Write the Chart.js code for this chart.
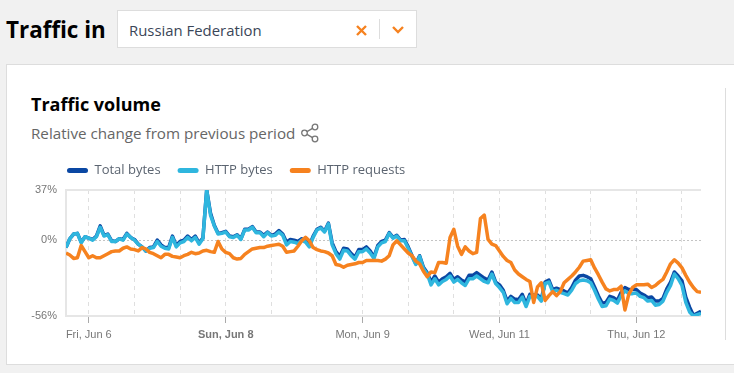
<!DOCTYPE html>
<html><head><meta charset="utf-8">
<script src="https://cdn.jsdelivr.net/npm/chart.js@4"></script>
<style>
html,body{margin:0;padding:0;width:734px;height:373px;overflow:hidden;background:#f1f1f1;font-family:"Open Sans",sans-serif}
.abs{position:absolute;white-space:nowrap}
#h1{left:6px;top:13px;font-size:22.4px;font-weight:700;color:#000;line-height:34px}
#sel{left:117px;top:10px;width:298px;height:36px;background:#fff;border:1px solid #ddd}
#seltxt{left:129px;top:19px;font-size:14.9px;line-height:22px;color:#3b4658}
#div{left:379px;top:19px;width:1px;height:20px;background:#ddd}
#card{left:6px;top:64px;width:740px;height:299px;background:#fff;border:1px solid #ddd}
#t{left:31px;top:91px;font-size:18px;font-weight:700;line-height:26px;color:#000}
#s{left:31px;top:122px;font-size:15.2px;line-height:22px;color:#666}
#vl{left:725px;top:88px;width:1px;height:252px;background:#ddd}
canvas{position:absolute;left:0;top:143px}
</style></head><body>
<div class="abs" id="h1">Traffic in</div>
<div class="abs" id="sel"></div>
<div class="abs" id="seltxt">Russian Federation</div>
<svg class="abs" style="left:355px;top:24px" width="13" height="13"><path d="M2 2L11 11M11 2L2 11" stroke="#f6821f" stroke-width="2.4" fill="none"/></svg>
<div class="abs" id="div"></div>
<svg class="abs" style="left:391px;top:25px" width="14" height="10"><path d="M2 2L7 7L12 2" stroke="#f6821f" stroke-width="2.4" fill="none"/></svg>
<div class="abs" id="card"></div>
<div class="abs" id="t">Traffic volume</div>
<div class="abs" id="s">Relative change from previous period</div>
<svg class="abs" style="left:300px;top:123px" width="20" height="20" fill="none" stroke="#777" stroke-width="1.3"><circle cx="4.5" cy="10" r="2.8"/><circle cx="15" cy="4" r="2.8"/><circle cx="15" cy="16" r="2.8"/><path d="M7 8.6L12.5 5.4M7 11.4L12.5 14.6"/></svg>
<div class="abs" id="vl"></div>
<canvas id="c" width="734" height="200"></canvas>
<script>
const seriesNames = ["Total bytes", "HTTP bytes", "HTTP requests"];
const seriesColors = ["#0a47a3", "#2fb6de", "#f6821f"];
const tickHours = [6,18,30,42,54,66,78,90,102,114,126,138,150,162];
const tickLabels = ["Fri, Jun 6","","","Sun, Jun 8","","","Mon, Jun 9","","","Wed, Jun 11","","","Thu, Jun 12",""];
const yTicks = [-56, 0, 37];
const totalBytes = [
-5.5,1,4.5,5,-1.5,2.5,1.5,0.5,3,10.5,3.5,4.5,
-0.5,-1,1,0.5,5,2,0.5,-3,-5,-8,-5.5,-5,
0,-3.5,-5.5,-5.5,3,-4,-1,0,3,0.5,3,-2,
1.5,37,20,11,5,5.5,6.5,3,2.5,4,1,8,
8,10,6,6,3.5,6,3.5,4.5,7,4.5,-1.5,0.5,
0,-1,1,-0.5,-4,3,8,9.5,6.5,12.5,-2,-8.5,
-12,-6,-6.5,-10,-12.5,-7,-7,-5,-8,-12.5,-4,-1,
0,5.5,2,3.5,0,0.5,-5,-11.5,-17.5,-11.5,-20,-24,
-31,-26.5,-31,-28.5,-27,-24.5,-29,-27,-29.5,-31,-26,-26,
-24,-26,-28,-29.5,-23.5,-31,-33,-37,-45,-41.5,-43.5,-44,
-40,-47,-40,-40.5,-40.5,-43.5,-31,-29.5,-36.5,-35.5,-36.5,-37.5,
-39,-35,-29.5,-26.5,-26,-27,-28.5,-34.5,-41,-46.5,-46,-41.5,
-42.5,-44.5,-38.5,-35,-36.5,-36.5,-36.5,-39,-40.5,-42.5,-42,-45,
-45,-43,-36,-31,-23.5,-26.5,-30,-42,-49.5,-55.5,-54,-52.5];
const httpBytes = [
-5.5,1,4.5,5,-2,2.5,1.5,0,2.5,9.5,3,4,
-1,-1,1,0,4.5,2,0,-3,-5,-8,-6,-5.5,
-1,-4.5,-6,-6.5,2,-5,-2,-1,2,-0.5,2,-3,
1,37,18.5,10.5,4.5,5,6,2.5,2,3.5,0.5,7.5,
7.5,9.5,5.5,5.5,2.5,5.5,3,3.5,6,3.5,-3.5,-1,
-1.5,-2.5,0,-1.5,-5,2,7.5,9,6,12,-3.5,-10,
-14,-7.5,-8,-11.5,-14,-8.5,-8.5,-6.5,-9.5,-13.5,-5,-2,
-1,5,1.5,3,-0.5,-0.5,-6,-12,-18,-12,-21,-25,
-33,-28.5,-33,-30.5,-29,-26.5,-31,-29,-31.5,-33.5,-28.5,-28.5,
-26.5,-28.5,-30.5,-31.5,-25,-32,-35,-38.5,-47,-43,-46,-46,
-42,-49,-41.5,-42,-41.5,-45,-32,-31,-38,-37,-38.5,-39.5,
-40.5,-37,-32,-30,-29.5,-30,-31.5,-37,-43.5,-49,-48.5,-43.5,
-44.5,-46.5,-41,-37.5,-39.5,-39.5,-39,-41.5,-42.5,-45,-44.5,-48,
-47.5,-45,-38.5,-33.5,-25,-28.5,-33.5,-46,-53,-56,-55,-54];
const httpRequests = [
-9.5,-11,-13.5,-13,-4,-8.5,-13,-11.5,-13,-13,-11.5,-10,
-8.5,-8,-8,-6,-5,-6.5,-7,-8,-5.5,-6.5,-9,-10,
-11.5,-13,-10.5,-10.5,-12,-12.5,-13,-11.5,-10.5,-9,-10,-9.5,
-8,-7.5,-8.5,-9,-1,-6.5,-9,-10,-13,-14,-13.5,-10.5,
-8.5,-6.5,-6,-5.5,-5.5,-4.5,-4,-3.5,-3,-4.5,-9,-8.5,
-8,-4.5,-0.5,2,-0.5,-5.5,-7,-8,-8.5,-9.5,-11.5,-18,
-18.5,-20,-18.5,-18,-17.5,-16.5,-16.5,-15,-15,-15,-15,-15.5,
-14,-11.5,-3.5,-0.5,-3.5,-6.5,-9.5,-11.5,-15.5,-17.5,-23,-27,
-23.5,-24,-16.5,-16.5,-17,2,8,-4.5,-10.5,-5,-8,-10,
-9,16,18.5,0.5,-3,-4,-8,-12,-15,-16.5,-22,-25,
-27,-29,-30.5,-46,-34.5,-31.5,-44.5,-41,-38,-41,-38,-31.5,
-29,-26.5,-23.5,-20,-15.5,-15,-14.5,-20.5,-25.5,-31,-36,-37.5,
-36.5,-36.5,-34,-51.5,-40,-35,-33,-33,-33,-32.5,-35,-33.5,
-31,-29,-23.5,-17.5,-14.5,-17,-20.5,-26,-31,-35,-38,-38.5];
const hours = totalBytes.map((_, i) => i);
const seriesValues = [totalBytes, httpBytes, httpRequests];

const legendNudge = {
  id: 'legendNudge',
  afterLayout(chart) { chart.legend.left = 50; chart.legend.top -= 3; }
};
new Chart(document.getElementById('c'), {
  type: 'line',
  plugins: [legendNudge],
  data: {
    labels: hours,
    datasets: seriesNames.map((n, i) => ({
      label: n,
      data: seriesValues[i],
      borderColor: seriesColors[i],
      backgroundColor: seriesColors[i],
      borderWidth: 3.5,
      pointRadius: 0,
      tension: 0,
      borderJoinStyle: 'round',
      order: 3 - i
    }))
  },
  options: {
    responsive: false,
    animation: false,
    layout: { padding: { left: 0, right: 33, top: 7, bottom: 0 } },
    plugins: {
      tooltip: { enabled: false },
      legend: {
        position: 'top', align: 'start',
        labels: {
          boxWidth: 21, boxHeight: 5, padding: 17, useBorderRadius: true, borderRadius: 2.5,
          color: '#5b6470', font: { family: '"Open Sans"', size: 13 },
          generateLabels: chart => Chart.defaults.plugins.legend.labels.generateLabels(chart).map(l => ({ ...l, lineWidth: 0 })),
          sort: (a, b) => a.datasetIndex - b.datasetIndex
        }
      }
    },
    scales: {
      x: {
        type: 'linear', min: 0, max: 167,
        afterBuildTicks(s) { s.ticks = tickHours.map(v => ({ value: v })); },
        afterFit(s) { s.height = 27; },
        grid: {
          color: '#dfdfdf', lineWidth: 1, tickLength: 7,
          tickColor: c => tickLabels[c.index] ? '#aaa' : 'rgba(0,0,0,0)', tickWidth: 1,
          tickBorderDash: []
        },
        border: { display: false, dash: [4, 4] },
        ticks: {
          autoSkip: false, maxRotation: 0, padding: 5, color: '#777',
          callback: (v, i) => tickLabels[i],
          font: c => ({ family: '"Liberation Sans"', size: 11, weight: tickLabels[c.index] === 'Sun, Jun 8' ? '700' : '400' })
        }
      },
      y: {
        min: -56, max: 37,
        afterBuildTicks(s) { s.ticks = yTicks.map(v => ({ value: v })); },
        afterFit(s) { s.width = 66; },
        grid: {
          drawTicks: false,
          color: c => c.tick && c.tick.value === 0 ? '#c4c4c4' : '#e6e6e6',
          lineWidth: c => c.tick && c.tick.value === 0 ? 1 : 2
        },
        border: { display: true, color: '#e6e6e6', width: 2, dash: c => c.tick && c.tick.value === 0 ? [2, 2] : [] },
        ticks: { padding: 9, color: '#777', callback: v => v + '%', font: { family: '"Liberation Sans"', size: 11 } }
      }
    }
  }
});
</script>
</body></html>
